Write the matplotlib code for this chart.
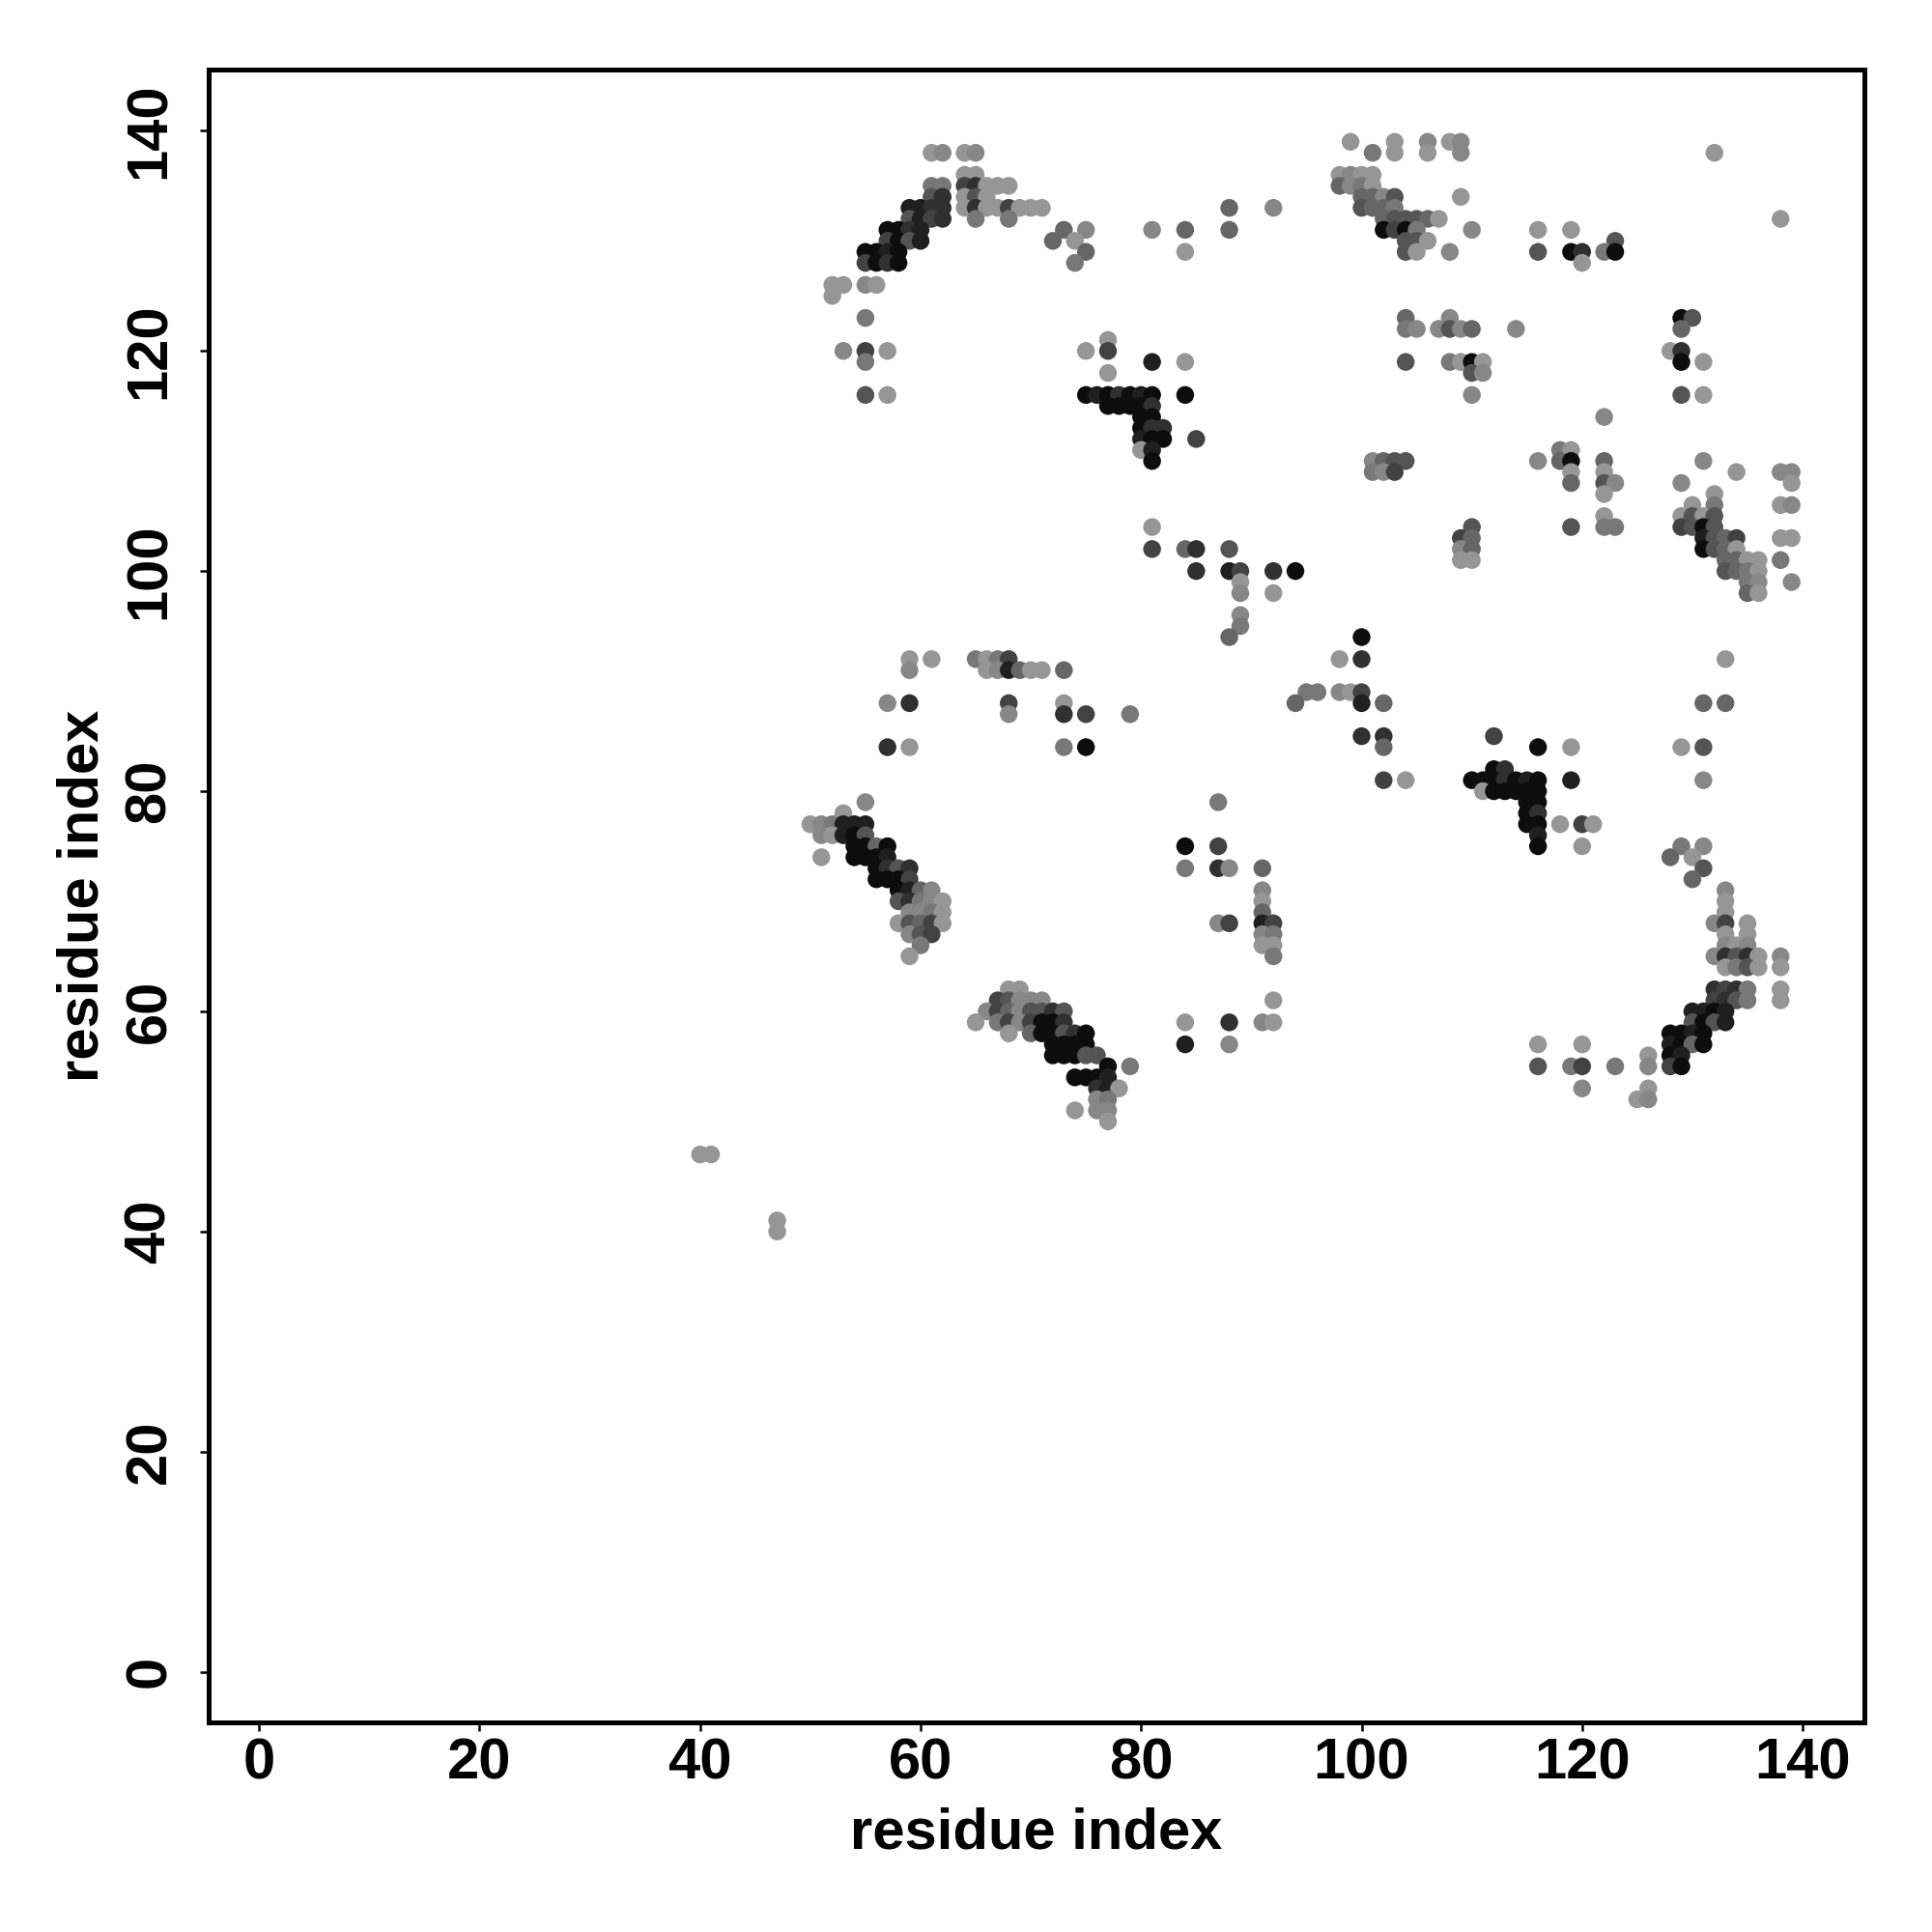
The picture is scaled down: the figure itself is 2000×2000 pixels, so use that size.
import numpy as np
import matplotlib
matplotlib.use('Agg')
import matplotlib.pyplot as plt

# contact map
# res_i: residue on x, res_j: residue on y,
# shade: 1 = black ... 9 = lightest grey
res_i = [
    99, 103, 106, 108, 109,                                      # j=139
    61, 62, 64, 65, 101, 103, 106, 109, 132,                     # 138
    64, 65, 98, 99, 100, 101,                                    # 136
    61, 62, 64, 65, 66, 67, 68, 98, 99, 100, 101,                # 135
    61, 62, 64, 65, 66, 100, 101, 102, 103, 109,                 # 134
    59, 60, 61, 62, 64, 65, 66, 67, 68, 69, 70, 71, 88, 92, 100, 101, 102, 103,  # 133
    59, 60, 61, 62, 65, 68, 102, 103, 104, 105, 106, 107, 138,   # 132
    57, 58, 59, 60, 73, 75, 81, 84, 88, 102, 103, 104, 105, 110, 116, 119,  # 131
    57, 58, 59, 60, 72, 74, 104, 105, 106, 123,                  # 130
    55, 56, 57, 58, 75, 84, 104, 105, 108, 116, 119, 120, 122, 123,  # 129
    55, 56, 57, 58, 74, 120,                                     # 128
    52, 53, 55, 56,                                              # 126
    52,                                                          # 125
    55, 104, 108, 129, 130,                                      # 123
    104, 105, 107, 108, 109, 110, 114, 129,                      # 122
    77,                                                          # 121
    53, 55, 57, 75, 77, 128, 129,                                # 120
    55, 81, 84, 104, 108, 109, 110, 111, 129, 131,               # 119
    77, 110, 111,                                                # 118
    55, 57, 75, 76, 77, 78, 79, 80, 81, 84, 110, 129, 131,       # 116
    77, 78, 79, 80, 81,                                          # 115
    80, 81, 122,                                                 # 114
    80, 81, 82,                                                  # 113
    80, 81, 82, 85,                                              # 112
    80, 81, 118, 119,                                            # 111
    81, 101, 102, 103, 104, 116, 118, 119, 122, 131,             # 110
    101, 102, 103, 119, 122, 134, 138, 139,                      # 109
    119, 122, 123, 129, 139,                                     # 108
    122, 132,                                                    # 107
    130, 132, 138, 139,                                          # 106
    122, 129, 130, 131, 132,                                     # 105
    81, 110, 119, 122, 123, 129, 130, 131, 132,                  # 104
    109, 110, 131, 132, 133, 134, 138, 139,                      # 103
    81, 84, 85, 88, 109, 110, 131, 132, 133, 134,                # 102
    109, 110, 133, 134, 135, 136, 138,                           # 101
    85, 88, 89, 92, 94, 133, 134, 135, 136,                      # 100
    89, 135, 136, 139,                                           # 99
    89, 92, 135, 136,                                            # 98
    89,                                                          # 96
    89,                                                          # 95
    88, 100,                                                     # 94
    59, 61, 65, 66, 67, 68, 98, 100, 133,                        # 92
    59, 66, 67, 68, 69, 70, 71, 73,                              # 91
    95, 96, 98, 99, 100,                                         # 89
    57, 59, 68, 73, 94, 100, 102, 131, 133,                      # 88
    68, 73, 75, 79,                                              # 87
    100, 102, 112,                                               # 85
    57, 59, 73, 75, 102, 116, 119, 129, 131,                     # 84
    112, 113,                                                    # 82
    102, 104, 110, 111, 112, 113, 114, 115, 116, 119, 131,       # 81
    111, 112, 113, 114, 115, 116,                                # 80
    55, 87, 115, 116,                                            # 79
    53, 115, 116,                                                # 78
    50, 51, 52, 53, 54, 55, 115, 116, 118, 120, 121,             # 77
    51, 52, 53, 54, 55, 116,                                     # 76
    54, 55, 56, 57, 84, 87, 116, 120, 129, 131,                  # 75
    51, 54, 55, 56, 57, 128, 130,                                # 74
    56, 57, 58, 59, 84, 87, 88, 91, 131,                         # 73
    56, 57, 58, 59, 130,                                         # 72
    58, 59, 60, 61, 91, 133,                                     # 71
    58, 59, 60, 61, 62, 91, 133,                                 # 70
    59, 60, 61, 62, 91, 133,                                     # 69
    58, 59, 60, 61, 62, 87, 88, 91, 92, 132, 133, 135,           # 68
    59, 60, 61, 91, 92, 133, 135,                                # 67
    60, 91, 92, 133, 134, 135,                                   # 66
    59, 92, 132, 133, 134, 135, 136, 138,                        # 65
    133, 134, 135, 136, 138,                                     # 64
    68, 69, 132, 133, 134, 135, 138,                             # 62
    67, 68, 69, 70, 71, 92, 132, 133, 134, 135, 138,             # 61
    66, 67, 68, 69, 70, 71, 72, 73, 130, 131, 132, 133,          # 60
    65, 67, 68, 69, 70, 71, 72, 73, 84, 88, 91, 92, 130, 131, 132, 133,  # 59
    68, 70, 71, 72, 73, 74, 75, 128, 129, 130, 131,              # 58
    72, 73, 74, 75, 84, 88, 116, 120, 128, 129, 130, 131,        # 57
    72, 73, 74, 75, 76, 126, 128, 129,                           # 56
    77, 79, 116, 119, 120, 123, 126, 128, 129,                   # 55
    74, 75, 76, 77,                                              # 54
    76, 77, 78, 120, 126,                                        # 53
    76, 77, 125, 126,                                            # 52
    74, 76, 77,                                                  # 51
    77,                                                          # 50
    40, 41,                                                      # 47
    47,                                                          # 41
    47,                                                          # 40
]

res_j_rows = [139, 138, 136, 135, 134, 133, 132, 131, 130, 129, 128, 126, 125,
              123, 122, 121, 120, 119, 118, 116, 115, 114, 113, 112, 111, 110,
              109, 108, 107, 106, 105, 104, 103, 102, 101, 100, 99, 98, 96, 95,
              94, 92, 91, 89, 88, 87, 85, 84, 82, 81, 80, 79, 78, 77, 76, 75,
              74, 73, 72, 71, 70, 69, 68, 67, 66, 65, 64, 62, 61, 60, 59, 58,
              57, 56, 55, 54, 53, 52, 51, 50, 47, 41, 40]
row_counts = [5, 9, 6, 11, 10, 18, 13, 16, 10, 14, 6, 4, 1,
              5, 8, 1, 7, 10, 3, 13, 5, 3, 3, 4, 4, 10,
              8, 5, 2, 4, 5, 9, 8, 10, 7, 9, 4, 4, 1, 1,
              2, 9, 8, 5, 9, 4, 3, 9, 2, 11, 6, 4, 3, 11, 6, 10,
              7, 9, 5, 6, 7, 6, 12, 7, 6, 8, 5, 7, 11, 12, 16, 11,
              12, 8, 9, 4, 5, 4, 3, 1, 2, 1, 1]

shade = [
    9, 9, 8, 9, 8,
    9, 8, 9, 8, 7, 9, 9, 8, 9,
    9, 9, 9, 8, 9, 9,
    7, 7, 4, 3, 9, 9, 9, 6, 8, 7, 9,
    5, 3, 9, 5, 9, 6, 6, 8, 5, 9,
    2, 2, 3, 3, 9, 3, 9, 9, 4, 9, 9, 9, 6, 8, 5, 6, 6, 7,
    5, 2, 4, 3, 7, 7, 6, 5, 5, 5, 6, 9, 9,
    1, 1, 3, 2, 6, 8, 8, 6, 6, 1, 4, 1, 7, 8, 9, 9,
    4, 1, 5, 2, 6, 9, 5, 5, 9, 5,
    1, 1, 2, 1, 6, 9, 5, 9, 8, 5, 1, 3, 7, 1,
    4, 1, 3, 1, 7, 9,
    9, 9, 8, 9,
    9,
    7, 6, 8, 1, 5,
    7, 8, 8, 5, 8, 6, 8, 6,
    9,
    8, 4, 9, 9, 4, 9, 3,
    7, 2, 9, 5, 7, 9, 1, 9, 1, 9,
    9, 5, 8,
    5, 9, 1, 2, 1, 3, 1, 2, 1, 1, 8, 5, 9,
    1, 1, 1, 1, 3,
    1, 1, 8,
    1, 3, 3,
    2, 1, 1, 4,
    9, 2, 7, 9,
    1, 8, 6, 5, 5, 8, 6, 1, 6, 8,
    7, 8, 4, 9, 9, 9, 8, 8,
    6, 5, 8, 8, 9,
    9, 9,
    9, 7, 9, 8,
    9, 9, 5, 9, 5,
    9, 5, 5, 7, 7, 4, 5, 1, 5,
    4, 6, 2, 5, 6, 4, 9, 9,
    4, 6, 3, 5, 8, 6, 1, 5, 6, 9,
    9, 9, 6, 6, 9, 9, 7,
    3, 2, 4, 3, 1, 5, 6, 7, 9,
    9, 7, 8, 8,
    8, 9, 6, 9,
    8,
    7,
    6, 1,
    9, 9, 7, 9, 7, 4, 9, 3, 9,
    8, 9, 8, 2, 6, 9, 9, 6,
    7, 7, 8, 9, 4,
    8, 3, 4, 9, 6, 2, 6, 6, 6,
    8, 3, 4, 7,
    3, 3, 4,
    3, 9, 7, 1, 6, 1, 9, 9, 5,
    1, 3,
    4, 9, 1, 1, 1, 3, 1, 2, 1, 2, 8,
    9, 1, 1, 1, 1, 1,
    8, 7, 1, 1,
    9, 1, 3,
    9, 8, 7, 2, 2, 2, 1, 1, 9, 4, 9,
    8, 9, 2, 1, 5, 2,
    1, 1, 6, 1, 1, 4, 1, 9, 7, 8,
    9, 1, 1, 1, 2, 6, 9,
    1, 3, 5, 3, 7, 3, 8, 6, 5,
    1, 1, 1, 4, 6,
    1, 2, 6, 8, 8, 8,
    5, 3, 7, 8, 9, 9, 9,
    8, 8, 7, 9, 6, 9,
    9, 5, 6, 4, 9, 8, 4, 2, 4, 8, 4, 9,
    8, 5, 4, 8, 7, 9, 9,
    7, 9, 9, 8, 9, 8,
    9, 7, 8, 3, 5, 3, 9, 8,
    9, 7, 5, 9, 9,
    9, 9, 3, 4, 3, 7, 9,
    4, 5, 8, 8, 8, 9, 4, 3, 5, 7, 9,
    8, 4, 6, 8, 5, 5, 3, 5, 2, 2, 1, 2,
    9, 7, 4, 8, 4, 1, 1, 3, 9, 3, 8, 9, 5, 1, 5, 2,
    9, 6, 1, 1, 5, 3, 1, 1, 1, 2, 1,
    1, 1, 1, 1, 2, 8, 9, 9, 2, 1, 6, 1,
    1, 1, 1, 5, 5, 9, 1, 2,
    1, 7, 5, 7, 4, 7, 8, 4, 1,
    1, 1, 1, 2,
    3, 2, 9, 8, 9,
    8, 7, 9, 8,
    9, 8, 8,
    9,
    9, 9,
    9,
    9,
]

# grey value for each shade level
grey_levels = [0.05, 0.12, 0.19, 0.26, 0.33, 0.40, 0.47, 0.53, 0.59]

res_j = np.repeat(res_j_rows, row_counts)
res_i = np.array(res_i)
shade = np.array(shade)
print(len(res_i), len(res_j), len(shade))
colors = [str(grey_levels[s - 1]) for s in shade]

plt.rcParams['font.family'] = ['Liberation Sans', 'DejaVu Sans']
plt.rcParams['font.weight'] = 'bold'

fig = plt.figure(figsize=(10, 10), dpi=200, facecolor='w')
ax = fig.add_axes([0.1078, 0.1085, 0.8572, 0.8557])

ax.scatter(res_i, res_j, s=44, c=colors, marker='o', linewidths=0)

ax.set_xlim(-4.6, 145.6)
ax.set_ylim(-4.6, 145.6)
ticks = np.arange(0, 141, 20)
ax.set_xticks(ticks)
ax.set_yticks(ticks)

for sp in ax.spines.values():
    sp.set_linewidth(1.8)
ax.tick_params(axis='both', length=3.2, width=0.9, labelsize=21.5, direction='out')
ax.tick_params(axis='x', pad=2.5)
ax.tick_params(axis='y', pad=8.5, labelrotation=90)
for lab in ax.get_yticklabels():
    lab.set_va('center')

ax.set_xlabel('residue index', fontsize=21.5, fontweight='bold', va='baseline')
ax.xaxis.set_label_coords(0.5, -0.076)
ax.set_ylabel('residue index', fontsize=21.5, fontweight='bold', va='baseline',
              rotation_mode='anchor')
ax.yaxis.set_label_coords(-0.0663, 0.5)

plt.savefig('out.png', dpi=200, facecolor='w')
